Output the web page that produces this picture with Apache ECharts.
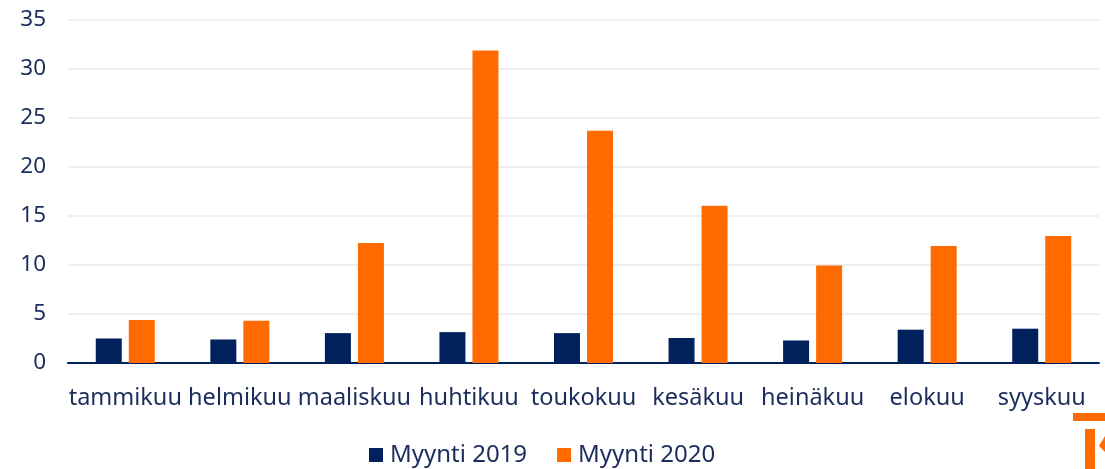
<!DOCTYPE html>
<html>
<head>
<meta charset="utf-8">
<script src="https://cdn.jsdelivr.net/npm/echarts@6/dist/echarts.min.js"></script>
<style>
  html, body { margin: 0; padding: 0; background: #fff; }
  #chart { width: 1105px; height: 469px; }
</style>
</head>
<body>
<div id="chart"></div>
<script>
// months Jan..Sep
const months = ['tammikuu', 'helmikuu', 'maaliskuu', 'huhtikuu', 'toukokuu', 'kesäkuu', 'heinäkuu', 'elokuu', 'syyskuu'];
const sales2019 = [2.5, 2.4, 3.05, 3.15, 3.05, 2.55, 2.3, 3.4, 3.5];
const sales2020 = [4.4, 4.3, 12.25, 31.9, 23.7, 16.05, 9.95, 11.95, 12.95];
const seriesNames = ['Myynti 2019', 'Myynti 2020'];

const navy = '#00215b';
const orange = '#ff6b00';
const textColor = '#1b2d5c';
const font = 'Noto Sans';

let chart = echarts.init(document.getElementById('chart'));

let option = {
  animation: false,
  textStyle: { fontFamily: font },
  grid: { left: 68, right: 6, top: 20, bottom: 106 },
  legend: {
    left: 364,
    top: 438,
    itemWidth: 14,
    itemHeight: 14,
    itemGap: 30,
    icon: 'rect',
    textStyle: { fontFamily: font, fontSize: 24, color: textColor, padding: [0, 0, 0, 2] },
    data: seriesNames
  },
  xAxis: {
    type: 'category',
    data: months,
    axisLine: { lineStyle: { color: navy, width: 2 } },
    axisTick: { show: false },
    axisLabel: { color: textColor, fontSize: 23.5, fontFamily: font, margin: 23, interval: 0 }
  },
  yAxis: {
    type: 'value',
    min: 0,
    max: 35,
    interval: 5,
    axisLine: { show: false },
    axisTick: { show: false },
    axisLabel: { color: textColor, fontSize: 22.5, fontFamily: font, margin: 22 },
    splitLine: { lineStyle: { color: '#efefef', width: 2 } }
  },
  series: [
    {
      name: seriesNames[0],
      type: 'bar',
      data: sales2019,
      barWidth: 26,
      barGap: '27%',
      itemStyle: { color: navy }
    },
    {
      name: seriesNames[1],
      type: 'bar',
      data: sales2020,
      barWidth: 26,
      itemStyle: { color: orange }
    }
  ],
  // cut-off logo in the corner
  graphic: [
    { type: 'rect', shape: { x: 1073, y: 413, width: 32, height: 8 }, style: { fill: orange } },
    { type: 'rect', shape: { x: 1085, y: 429, width: 10, height: 40 }, style: { fill: orange } },
    { type: 'polygon', shape: { points: [[1105, 436], [1105, 452], [1099, 446]] }, style: { fill: orange } }
  ]
};

chart.setOption(option);
</script>
</body>
</html>
